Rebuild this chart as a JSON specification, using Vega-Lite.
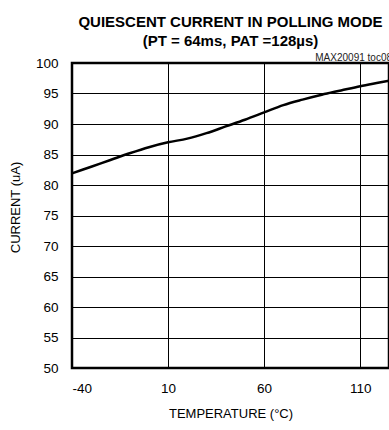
{
  "$schema": "https://vega.github.io/schema/vega-lite/v6.json",
  "autosize": "none",
  "padding": {"left": 72, "top": 63, "right": 0, "bottom": 62},
  "width": 317,
  "height": 305,
  "background": "white",
  "title": {
    "text": ["QUIESCENT CURRENT IN POLLING MODE", "(PT = 64ms, PAT  =128µs)"],
    "anchor": "middle",
    "frame": "group",
    "font": "Liberation Sans",
    "fontSize": 15,
    "fontWeight": "bold",
    "lineHeight": 19,
    "color": "black",
    "offset": 4
  },
  "config": {
    "view": {"stroke": "black", "strokeWidth": 2.5},
    "axis": {
      "labelFont": "Liberation Sans",
      "titleFont": "Liberation Sans",
      "labelColor": "black",
      "titleColor": "black",
      "titleFontWeight": "normal",
      "labelOverlap": false,
      "grid": true,
      "gridColor": "black",
      "gridOpacity": 1,
      "gridWidth": 1,
      "ticks": false,
      "domain": false
    }
  },
  "layer": [
    {
      "data": {
        "values": [
          {"temp": -40, "current": 81.9},
          {"temp": -30, "current": 83.0},
          {"temp": -20, "current": 84.1},
          {"temp": -10, "current": 85.2},
          {"temp": 0, "current": 86.2},
          {"temp": 10, "current": 87.0},
          {"temp": 20, "current": 87.6},
          {"temp": 30, "current": 88.5},
          {"temp": 40, "current": 89.6},
          {"temp": 50, "current": 90.7},
          {"temp": 60, "current": 91.9},
          {"temp": 70, "current": 93.1},
          {"temp": 80, "current": 94.0},
          {"temp": 90, "current": 94.8},
          {"temp": 100, "current": 95.5},
          {"temp": 110, "current": 96.2},
          {"temp": 120, "current": 96.8},
          {"temp": 125, "current": 97.1}
        ]
      },
      "mark": {"type": "line", "color": "black", "strokeWidth": 2.5, "interpolate": "monotone"},
      "encoding": {
        "x": {
          "field": "temp",
          "type": "quantitative",
          "scale": {"domain": [-40, 125], "nice": false, "zero": false},
          "axis": {
            "title": "TEMPERATURE (°C)",
            "values": [-40, 10, 60, 110],
            "labelExpr": "'' + datum.value",
            "labelFontSize": 13.5,
            "labelPadding": 13,
            "titleFontSize": 13,
            "titlePadding": 13
          }
        },
        "y": {
          "field": "current",
          "type": "quantitative",
          "scale": {"domain": [50, 100], "nice": false, "zero": false},
          "axis": {
            "title": "CURRENT (uA)",
            "values": [50, 55, 60, 65, 70, 75, 80, 85, 90, 95, 100],
            "labelFontSize": 13.5,
            "labelPadding": 14,
            "titleFontSize": 13,
            "titlePadding": 13,
            "titleY": 144
          }
        }
      }
    },
    {
      "data": {"values": [{"temp": 125, "current": 100, "note": "MAX20091 toc08"}]},
      "mark": {"type": "text", "align": "right", "baseline": "alphabetic", "font": "Liberation Sans", "fontSize": 10, "fontWeight": "normal", "color": "#222222", "dx": 3, "dy": -2.5},
      "encoding": {
        "text": {"field": "note"},
        "x": {
          "field": "temp",
          "type": "quantitative",
          "scale": {"domain": [-40, 125], "nice": false, "zero": false},
          "axis": {
            "title": "TEMPERATURE (°C)",
            "values": [-40, 10, 60, 110],
            "labelExpr": "'' + datum.value",
            "labelFontSize": 13.5,
            "labelPadding": 13,
            "titleFontSize": 13,
            "titlePadding": 13
          }
        },
        "y": {
          "field": "current",
          "type": "quantitative",
          "scale": {"domain": [50, 100], "nice": false, "zero": false},
          "axis": {
            "title": "CURRENT (uA)",
            "values": [50, 55, 60, 65, 70, 75, 80, 85, 90, 95, 100],
            "labelFontSize": 13.5,
            "labelPadding": 14,
            "titleFontSize": 13,
            "titlePadding": 13,
            "titleY": 144
          }
        }
      }
    }
  ]
}
